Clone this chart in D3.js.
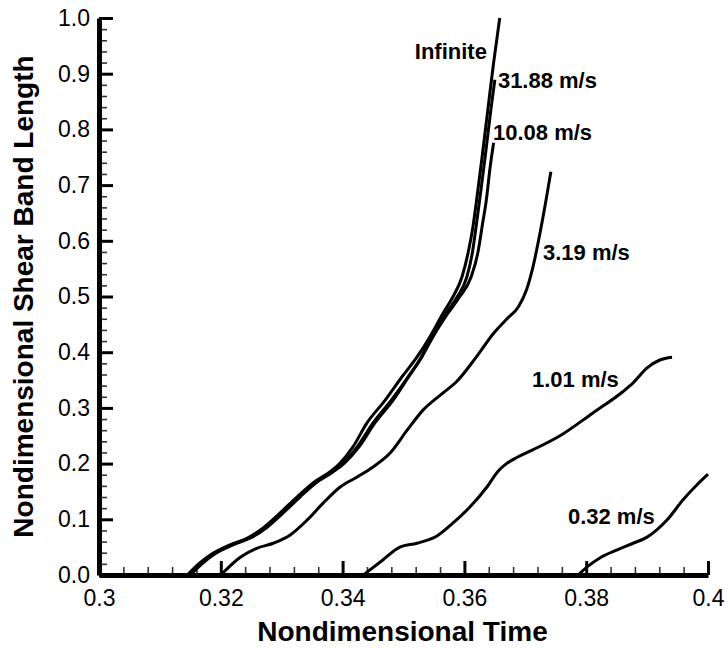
<!DOCTYPE html>
<html>
<head>
<meta charset="utf-8">
<script src="https://cdn.jsdelivr.net/npm/d3@7"></script>
<style>
  html, body { margin: 0; padding: 0; background: #fff; }
  svg { display: block; }
  text { font-family: "Liberation Sans", Arial, Helvetica, sans-serif; fill: #000; }
</style>
</head>
<body>
<svg id="chart" width="728" height="648"></svg>
<script>
// ---- data (time, length) ----
const seriesNames = ["Infinite", "31.88 m/s", "10.08 m/s", "3.19 m/s", "1.01 m/s", "0.32 m/s"];

const infinite = [
  [0.3145,0.000],[0.3166,0.022],[0.3187,0.039],[0.3215,0.054],[0.3243,0.066],
  [0.3269,0.084],[0.3297,0.111],[0.3325,0.140],[0.3351,0.165],[0.3379,0.185],
  [0.3396,0.201],[0.3417,0.230],[0.3440,0.273],[0.3470,0.314],[0.3497,0.355],
  [0.3522,0.391],[0.3543,0.427],[0.3565,0.470],[0.3581,0.499],[0.3596,0.535],
  [0.3606,0.578],[0.3614,0.625],[0.3620,0.673],[0.3629,0.750],[0.3639,0.840],
  [0.3648,0.920],[0.3658,1.000]
];
const v3188 = [
  [0.3147,0.000],[0.3168,0.022],[0.3189,0.039],[0.3217,0.054],[0.3245,0.066],
  [0.3272,0.084],[0.3300,0.111],[0.3328,0.140],[0.3354,0.165],[0.3382,0.185],
  [0.3401,0.201],[0.3424,0.230],[0.3450,0.273],[0.3480,0.314],[0.3507,0.355],
  [0.3529,0.391],[0.3546,0.427],[0.3570,0.470],[0.3588,0.499],[0.3604,0.535],
  [0.3613,0.578],[0.3620,0.632],[0.3625,0.673],[0.3634,0.750],[0.3644,0.840],
  [0.3650,0.889]
];
const v1008 = [
  [0.3150,0.000],[0.3171,0.022],[0.3192,0.039],[0.3220,0.054],[0.3248,0.066],
  [0.3274,0.084],[0.3302,0.111],[0.3330,0.140],[0.3356,0.165],[0.3384,0.185],
  [0.3403,0.201],[0.3427,0.230],[0.3453,0.273],[0.3483,0.314],[0.3508,0.355],
  [0.3530,0.391],[0.3548,0.427],[0.3573,0.470],[0.3592,0.499],[0.3611,0.535],
  [0.3622,0.578],[0.3630,0.632],[0.3636,0.673],[0.3642,0.730],[0.3648,0.776]
];
const v319 = [
  [0.3200,0.000],[0.3232,0.032],[0.3259,0.048],[0.3286,0.057],[0.3314,0.072],
  [0.3342,0.099],[0.3368,0.129],[0.3396,0.158],[0.3424,0.176],[0.3450,0.194],
  [0.3478,0.219],[0.3506,0.260],[0.3532,0.296],[0.3565,0.327],[0.3587,0.347],
  [0.3620,0.392],[0.3648,0.434],[0.3670,0.460],[0.3689,0.482],[0.3702,0.512],
  [0.3713,0.555],[0.3724,0.613],[0.3735,0.679],[0.3742,0.724]
];
const v101 = [
  [0.3434,0.000],[0.3466,0.027],[0.3494,0.050],[0.3522,0.057],[0.3555,0.070],
  [0.3581,0.093],[0.3609,0.122],[0.3637,0.158],[0.3655,0.186],[0.3668,0.199],
  [0.3686,0.211],[0.3713,0.225],[0.3757,0.250],[0.3811,0.291],[0.3860,0.329],
  [0.3877,0.345],[0.3900,0.372],[0.3921,0.386],[0.3941,0.391]
];
const v032 = [
  [0.3787,0.000],[0.3801,0.014],[0.3823,0.031],[0.3851,0.045],[0.3877,0.057],
  [0.3900,0.068],[0.3916,0.081],[0.3933,0.099],[0.3959,0.135],[0.3982,0.162],
  [0.4000,0.181]
];

// label anchors (time, length) and anchor side
const labelPos = [[0.3637,0.926],[0.3655,0.874],[0.3647,0.781],[0.3729,0.5655],[0.3711,0.3375],[0.3770,0.0916]];
const labelAnchor = ["end","start","start","start","start","start"];

const xTickValues = [0.30, 0.32, 0.34, 0.36, 0.38, 0.40];
const xTickLabels = ["0.3", "0.32", "0.34", "0.36", "0.38", "0.4"];
const yTickValues = [0.0, 0.1, 0.2, 0.3, 0.4, 0.5, 0.6, 0.7, 0.8, 0.9, 1.0];
const yTickLabels = ["0.0","0.1","0.2","0.3","0.4","0.5","0.6","0.7","0.8","0.9","1.0"];
const xTitle = "Nondimensional Time";
const yTitle = "Nondimensional Shear Band Length";

// ---- drawing ----
const series = [infinite, v3188, v1008, v319, v101, v032];
const svg = d3.select("#chart");
const plotLeft = 99, plotRight = 708, plotTop = 18, plotBottom = 575;

const x = d3.scaleLinear().domain([0.3, 0.4]).range([plotLeft, plotRight]);
const y = d3.scaleLinear().domain([0, 1]).range([plotBottom, plotTop]);

// minor ticks
const xMinor = d3.range(0, 26).map(i => 0.3 + i * 0.004).filter(v => Math.abs((v - 0.3) / 0.02 - Math.round((v - 0.3) / 0.02)) > 1e-6);
const yMinor = d3.range(0, 51).map(i => i * 0.02).filter(v => Math.abs(v * 10 - Math.round(v * 10)) > 1e-6);

svg.append("g").attr("transform", `translate(0,${plotBottom})`)
  .call(d3.axisBottom(x).tickValues(xMinor).tickSize(-8).tickFormat(""))
  .call(g => g.select(".domain").remove())
  .call(g => g.selectAll("line").attr("stroke", "#333").attr("stroke-width", 1.6));
svg.append("g").attr("transform", `translate(${plotLeft},0)`)
  .call(d3.axisLeft(y).tickValues(yMinor).tickSize(-8).tickFormat(""))
  .call(g => g.select(".domain").remove())
  .call(g => g.selectAll("line").attr("stroke", "#333").attr("stroke-width", 1.6));

// major axes
const xAxis = svg.append("g").attr("transform", `translate(0,${plotBottom})`)
  .call(d3.axisBottom(x).tickValues(xTickValues).tickSizeInner(-14).tickSizeOuter(0)
    .tickPadding(15).tickFormat((d, i) => xTickLabels[i]));
const yAxis = svg.append("g").attr("transform", `translate(${plotLeft},0)`)
  .call(d3.axisLeft(y).tickValues(yTickValues).tickSizeInner(-14).tickSizeOuter(0)
    .tickPadding(9).tickFormat((d, i) => yTickLabels[i]));
[xAxis, yAxis].forEach(g => {
  g.select(".domain").attr("stroke", "#000").attr("stroke-width", 5);
  g.selectAll(".tick line").attr("stroke", "#000").attr("stroke-width", 3);
  g.selectAll(".tick text").style("font-size", "23px").style("font-family", '"Liberation Sans", Arial, sans-serif').attr("fill", "#000");
});

// curves
const line = d3.line().x(d => x(d[0])).y(d => y(d[1])).curve(d3.curveMonotoneX);
svg.append("g").selectAll("path").data(series).join("path")
  .attr("d", line)
  .attr("fill", "none").attr("stroke", "#000").attr("stroke-width", 3)
  .attr("stroke-linejoin", "round");

// labels
svg.append("g").selectAll("text").data(seriesNames).join("text")
  .attr("x", (d, i) => x(labelPos[i][0]))
  .attr("y", (d, i) => y(labelPos[i][1]))
  .attr("text-anchor", (d, i) => labelAnchor[i])
  .style("font-size", "22px").style("font-weight", "bold")
  .text(d => d);

// titles
svg.append("text").attr("x", (plotLeft + plotRight) / 2 - 1).attr("y", 641)
  .attr("text-anchor", "middle").style("font-size", "28px").style("font-weight", "bold")
  .text(xTitle);
svg.append("text").attr("transform", `translate(33,${(plotTop + plotBottom) / 2}) rotate(-90)`)
  .attr("text-anchor", "middle").style("font-size", "28px").style("font-weight", "bold")
  .text(yTitle);
</script>
</body>
</html>
